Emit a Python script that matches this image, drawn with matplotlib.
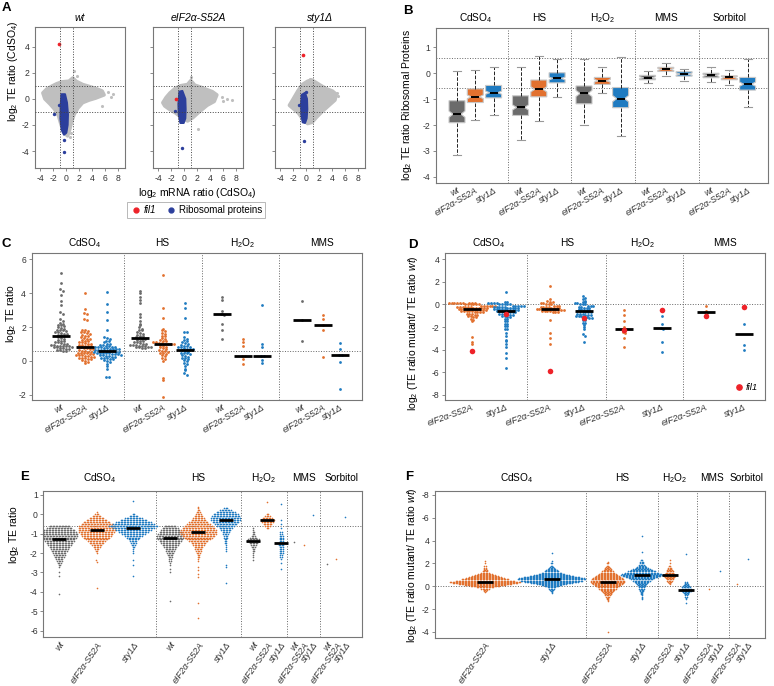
import numpy as np
import matplotlib
matplotlib.use('Agg')
import matplotlib.pyplot as plt
from matplotlib.patches import Polygon
from matplotlib.lines import Line2D

plt.rcParams['font.family'] = ['Liberation Sans', 'DejaVu Sans']
plt.rcParams['mathtext.fontset'] = 'custom'
plt.rcParams['mathtext.rm'] = 'Liberation Sans'
plt.rcParams['mathtext.it'] = 'Liberation Sans:italic'
plt.rcParams['mathtext.default'] = 'regular'
plt.rcParams['axes.unicode_minus'] = False

# ---------------- data ----------------
strains = ['wt', 'eIF2α-S52A', 'sty1Δ']
conds5 = ['CdSO$_4$', 'HS', 'H$_2$O$_2$', 'MMS', 'Sorbitol']
conds4 = conds5[:4]

# A: outline of the dense gene cloud, extra genes, ribosomal protein column, fil1
cloud_wt = [(-3.6, 0.45), (-3.0, 0.75), (-2.3, 0.95), (-1.5, 1.15), (-0.7, 1.3), (0.4, 1.35), (1.0, 1.6),
            (1.5, 1.35), (2.5, 1.1), (3.5, 0.95), (4.5, 0.8), (5.5, 0.6), (5.8, 0.3), (4.5, 0.05), (3.5, -0.1),
            (2.5, -0.3), (1.8, -0.7), (1.2, -1.2), (0.8, -1.8), (0.5, -2.4), (0.2, -2.85), (-0.3, -2.6),
            (-0.8, -2.0), (-1.2, -1.3), (-1.8, -0.8), (-2.5, -0.4), (-3.3, 0.0)]
extra_wt = [(1.2, 2.1), (1.7, 1.75), (6.4, 0.5), (7.2, 0.4), (6.8, 0.15), (5.5, -0.55), (0.5, -2.9), (0.7, -2.6)]
ribo_wt = [(-0.75, 0.35), (-0.2, 0.35), (0.1, -0.3), (0.25, -1.2), (0.2, -2.0), (0.0, -2.6), (-0.35, -2.75),
           (-0.7, -2.4), (-0.9, -1.5), (-0.85, -0.5)]
ribo_extra_wt = [(-1.95, -1.2), (-0.35, -3.15), (-0.4, -4.1), (-1.1, -0.5)]

cloud_s52a = [(-3.3, -0.3), (-2.8, 0.1), (-2.2, 0.45), (-1.4, 0.8), (-0.6, 1.0), (0.5, 1.1), (1.0, 1.4),
              (1.6, 1.05), (2.5, 0.9), (3.5, 0.7), (4.3, 0.55), (5.0, 0.3), (4.6, -0.2), (3.5, -0.5),
              (2.3, -1.0), (1.3, -1.45), (0.5, -1.7), (-0.3, -1.5), (-1.3, -1.1), (-2.3, -0.8), (-3.0, -0.55)]
extra_s52a = [(1.07, 1.65), (5.8, 0.17), (6.5, 0.0), (7.35, -0.1), (2.1, -2.35), (6.0, -0.2)]
ribo_s52a = [(-0.75, 0.55), (-0.3, 0.6), (0.15, 0.0), (0.2, -0.8), (0.15, -1.5), (-0.1, -1.85), (-0.6, -1.85),
             (-0.85, -1.2), (-0.9, -0.4)]
ribo_extra_s52a = [(-1.45, -0.95), (-0.4, -3.8)]

cloud_sty1 = [(-2.6, -0.5), (-2.0, 0.0), (-1.3, 0.6), (-0.6, 1.1), (0.2, 1.35), (0.8, 1.45), (1.5, 1.25),
              (2.3, 1.0), (3.2, 0.75), (4.0, 0.6), (4.6, 0.35), (4.4, -0.1), (3.5, -0.5), (2.6, -0.9),
              (1.6, -1.4), (0.9, -1.8), (0.2, -1.9), (-0.5, -1.6), (-1.2, -1.1), (-1.9, -0.8)]
extra_sty1 = [(4.75, 0.45), (4.9, 0.2), (0.6, 1.55)]
ribo_sty1 = [(-0.7, 0.3), (-0.2, 0.45), (0.1, 0.0), (0.15, -0.8), (0.05, -1.5), (-0.2, -1.85), (-0.55, -1.8),
             (-0.75, -1.2), (-0.8, -0.4)]
ribo_extra_sty1 = [(-1.1, -0.5), (-0.3, -3.25), (-0.1, 0.5)]

fil1_a = [(-1.15, 4.2), (-1.25, 0.0), (-0.55, 3.35)]

# B: ribosomal protein TE ratio boxes (CdSO4, HS, H2O2, MMS, Sorbitol x wt, S52A, sty1)
b_whishi = [0.085, 0.11, 0.23, 0.24, 0.68, 0.56, 0.54, 0.25, 0.61, 0.085, 0.39, 0.18, 0.25, 0.12, 0.57]
b_q3 = [-1.06, -0.6, -0.47, -0.87, -0.26, 0.02, -0.49, -0.16, -0.55, -0.08, 0.23, 0.06, 0.0, -0.1, -0.16]
b_med = [-1.58, -0.91, -0.75, -1.32, -0.62, -0.2, -0.78, -0.29, -0.98, -0.17, 0.15, -0.03, -0.08, -0.16, -0.42]
b_q1 = [-1.91, -1.13, -0.95, -1.63, -0.91, -0.37, -1.18, -0.43, -1.33, -0.25, 0.07, -0.11, -0.17, -0.25, -0.65]
b_whislo = [-3.16, -1.81, -1.6, -2.57, -1.85, -0.92, -1.98, -0.75, -2.44, -0.39, -0.11, -0.31, -0.34, -0.47, -1.29]
b_notch = [0.12, 0.07, 0.06, 0.1, 0.1, 0.05, 0.12, 0.05, 0.12, 0.04, 0.04, 0.04, 0.04, 0.04, 0.08]

# C: log2 TE ratio of induced genes
c_cd_wt = [5.2, 4.6, 4.25, 4.15, 3.9, 3.55, 3.3, 2.9, 2.8, 2.45, 2.35, 2.25, 2.2, 2.15, 2.1, 2.05, 2.0, 1.95,
           1.9, 1.85, 1.85, 1.8, 1.75, 1.7, 1.7, 1.65, 1.6, 1.6, 1.55, 1.55, 1.45, 1.4, 1.35, 1.3, 1.25, 1.2,
           1.15, 1.1, 1.1, 1.05, 1.0, 1.0, 0.95, 0.95, 0.9, 0.88, 0.88, 0.88, 0.88, 0.85, 0.8, 0.8, 0.75,
           0.75, 0.7, 0.7, 0.65, 0.65, 0.6, 0.6]
c_cd_s52a = [4.0, 3.05, 2.85, 2.8, 2.45, 2.4, 1.85, 1.8, 1.75, 1.7, 1.7, 1.65, 1.6, 1.55, 1.5, 1.45, 1.4, 1.35,
             1.3, 1.3, 1.25, 1.2, 1.15, 1.1, 1.1, 1.05, 1.0, 1.0, 0.95, 0.95, 0.9, 0.9, 0.88, 0.82, 0.8, 0.75,
             0.75, 0.7, 0.7, 0.65, 0.6, 0.6, 0.55, 0.55, 0.5, 0.5, 0.45, 0.45, 0.4, 0.4, 0.35, 0.35, 0.35, 0.3,
             0.3, 0.25, 0.25, 0.2, 0.2, 0.15, 0.1, 0.1, 0.05, 0.0, -0.05, -0.1]
c_cd_sty1 = [4.05, 3.35, 2.9, 2.4, 1.85, 1.4, 1.35, 1.3, 1.2, 1.15, 1.1, 1.0, 1.0, 0.95, 0.95, 0.9, 0.9, 0.85,
             0.85, 0.8, 0.8, 0.8, 0.75, 0.75, 0.7, 0.7, 0.7, 0.68, 0.65, 0.65, 0.62, 0.62, 0.61, 0.58, 0.58,
             0.55, 0.55, 0.52, 0.5, 0.5, 0.48, 0.45, 0.45, 0.42, 0.4, 0.4, 0.38, 0.35, 0.35, 0.3, 0.3, 0.25,
             0.25, 0.2, 0.2, 0.15, 0.1, 0.1, 0.05, 0.0, -0.05, -0.15, -0.3, -0.45, -0.95, -0.95]
c_hs_wt = [4.15, 4.0, 3.8, 3.6, 3.4, 2.75, 2.6, 2.35, 2.2, 2.1, 2.0, 1.9, 1.85, 1.8, 1.7, 1.65, 1.6, 1.55, 1.5,
           1.45, 1.4, 1.38, 1.32, 1.3, 1.25, 1.2, 1.15, 1.1, 1.1, 1.05, 1.0, 1.0, 0.95, 0.95, 0.92, 0.9, 0.9,
           0.88, 0.85, 0.85, 0.8, 0.8, 0.78, 0.75]
c_hs_s52a = [5.05, 3.15, 2.55, 1.9, 1.85, 1.75, 1.65, 1.6, 1.5, 1.45, 1.35, 1.3, 1.25, 1.2, 1.15, 1.1, 1.1, 1.05,
             1.05, 1.02, 1.02, 1.01, 0.98, 0.95, 0.9, 0.85, 0.8, 0.75, 0.7, 0.65, 0.6, 0.58, 0.55, 0.5, 0.45,
             0.4, 0.35, 0.3, 0.2, 0.1, 0.0, -1.0, -1.15, -2.1]
c_hs_sty1 = [3.4, 3.1, 2.55, 1.7, 1.7, 1.4, 1.3, 1.25, 1.2, 1.1, 1.05, 1.0, 0.95, 0.9, 0.9, 0.85, 0.8, 0.8, 0.75,
             0.72, 0.7, 0.68, 0.62, 0.6, 0.55, 0.5, 0.5, 0.45, 0.4, 0.35, 0.3, 0.25, 0.2, 0.15, 0.1, 0.05, 0.0,
             -0.1, -0.2, -0.3, -0.45, -0.55, -0.7, -0.8]
c_h2o2_wt = [3.75, 3.6, 2.95, 2.8, 2.75, 2.7, 2.2, 1.8, 1.3]
c_h2o2_s52a = [1.3, 1.1, 0.9, 0.3, 0.3, 0.1, -0.2]
c_h2o2_sty1 = [3.3, 1.0, 0.8, 0.3, 0.28, 0.05, -0.1]
c_mms_wt = [3.55, 2.4, 1.2]
c_mms_s52a = [2.7, 2.5, 2.1, 1.85, 0.25]
c_mms_sty1 = [1.05, 0.7, 0.35, 0.35, -0.05, -1.65]

# D: log2 (TE ratio mutant / TE ratio wt), same genes
d_cd_s52a = [0.15] * 3 + [0.1] * 6 + [0.0] * 6 + [-0.1] * 6 + [-0.2] * 6 + [-0.3] * 6 + [-0.4] * 6 + \
            [-0.5] * 5 + [-0.6] * 5 + [-0.7] * 4 + [-0.8] * 3 + [-0.9] * 2 + [-1.0] * 2 + [-1.1] * 2 + \
            [-1.3, -1.4, -1.45, -2.9, -3.3, -3.5]
d_cd_sty1 = [1.1] + [0.2] * 2 + [0.1] * 4 + [0.0] * 5 + [-0.1] * 5 + [-0.2] * 5 + [-0.3] * 5 + [-0.4] * 5 + \
            [-0.5] * 5 + [-0.6] * 4 + [-0.7] * 4 + [-0.8] * 3 + [-0.9] * 3 + [-1.0] * 2 + [-1.1] * 2 + \
            [-1.3] * 2 + [-1.5] * 2 + [-1.7] * 2 + [-1.9] * 2 + [-2.2] * 2 + \
            [-2.5, -2.8, -3.1, -3.2, -3.5, -3.8, -4.3, -4.7, -5.6]
d_hs_s52a = [1.65, 0.45, 0.3, 0.2, 0.2, 0.1, 0.1, 0.0, 0.0, 0.0] + [-0.1] * 3 + [-0.2] * 4 + [-0.3] * 4 + \
            [-0.4] * 6 + [-0.5] * 5 + [-0.6] * 4 + [-0.7] * 3 + [-1.4, -2.5, -3.0, -3.5]
d_hs_sty1 = [0.75, 0.6, 0.5, 0.35, 0.2, 0.2, 0.1, 0.1, 0.0, 0.0, 0.0, -0.1, -0.1, -0.1, -0.2, -0.2] + \
            [-0.3] * 3 + [-0.4] * 2 + [-0.5] * 3 + [-0.6] * 3 + [-0.7] * 3 + [-0.8] * 3 + [-0.9] * 3 + \
            [-1.0] * 3 + [-1.1] * 2 + [-1.2] * 2 + [-1.4] * 2 + [-1.6] * 2 + [-1.8, -2.0, -2.2, -2.6, -2.75, -3.35]
d_h2o2_s52a = [-0.45, -0.9, -1.5, -2.0, -2.4, -2.5, -2.95, -3.75]
d_h2o2_sty1 = [-0.5, -1.0, -1.75, -2.1, -2.2, -3.3, -4.2]
d_mms_s52a = [-0.1, -0.55, -0.7, -0.75, -1.0]
d_mms_sty1 = [-0.2, -1.7, -3.6, -4.0]
d_fil1 = [-4.15, -0.85, -5.85, -1.2, -2.3, -0.5, -1.0, -0.2]

# E: all repressed genes, genes per 0.1 bin from the top bin downwards, plus isolated genes
e_top = [-0.6, 0.1, 0.0, -0.6, 0.4, 0.3, -0.7, 0.0, -0.3, None, None, None, None, None, None]
e_counts = [
    [14, 17, 21, 23, 25, 24, 23, 21, 20, 18, 16, 14, 12, 11, 9, 8, 7, 5, 4, 3, 2, 1],
    [1, 3, 6, 10, 14, 18, 21, 24, 25, 25, 24, 22, 20, 18, 15, 12, 10, 7, 5, 3, 2, 1],
    [2, 6, 12, 18, 24, 28, 33, 28, 24, 20, 16, 12, 9, 7, 5, 4, 3, 2, 1, 1, 1],
    [8, 11, 13, 15, 17, 18, 18, 17, 15, 13, 11, 9, 7, 6, 5, 4, 3, 2, 2, 1, 1, 0, 1],
    [1, 1, 2, 3, 4, 6, 8, 10, 13, 16, 19, 22, 24, 25, 24, 22, 19, 16, 13, 10, 8, 6, 5, 4, 3, 2, 2, 1, 1],
    [3, 8, 13, 17, 19, 20, 20, 18, 15, 12, 9, 7, 5, 4, 3, 3, 2, 2, 2, 1, 1, 1, 1],
    [1, 1, 2, 2, 3, 5, 8, 9, 6, 4, 3, 2, 2, 1, 1, 1],
    [2, 4, 7, 10, 8, 6, 4, 2],
    [1, 0, 1, 0, 1, 0, 2, 2, 3, 3, 3, 3, 4, 4, 3, 3, 3, 3, 2, 2, 1],
    [], [], [], [], [], []]
e_extra = [[-3.0, -3.2, -4.1], [-2.35, -2.45, -3.8], [0.7, -2.35, -2.6, -3.2], [-3.0, -4.5],
           [-2.7, -2.9, -3.1, -3.25, -4.6, -5.35], [-2.6, -2.7, -3.55], [-2.35], [0.65], [0.55, -2.5, -2.8],
           [-1.41], [-1.58], [-0.03], [-2.57], [-2.33], [-0.14]]

# F: mutant / wt ratio for the same genes (mutants only)
f_top = [2.2, 2.2, 2.1, 2.3, 2.0, 0.4, None, None, None, None]
f_counts = [
    [1, 0, 1, 0, 2, 0, 2, 2, 3, 4, 6, 10, 14, 18, 22, 26, 32, 40, 48, 44, 36, 28, 20, 12, 6, 3, 2, 1],
    [1, 0, 2, 0, 2, 3, 4, 6, 8, 10, 14, 18, 24, 30, 38, 44, 46, 42, 36, 28, 20, 14, 10, 6, 4, 3, 2, 1, 1],
    [1, 2, 0, 2, 3, 4, 5, 6, 8, 10, 12, 14, 16, 18, 20, 22, 23, 23, 22, 20, 18, 16, 14, 12, 10, 8, 7, 6, 5,
     4, 3, 2, 2, 1, 1],
    [2, 0, 3, 3, 4, 5, 7, 9, 12, 15, 19, 23, 27, 28, 26, 22, 18, 15, 12, 10, 8, 7, 6, 5, 4, 4, 3, 3, 2, 2,
     2, 1, 1, 1, 1],
    [1, 0, 2, 0, 3, 3, 4, 5, 6, 7, 8, 8, 7, 6, 5, 4, 3, 2, 1],
    [2, 2, 3, 4, 5, 6, 7, 8, 7, 5, 4, 3, 2, 2, 1, 1],
    [], [], [], []]
f_extra = [[], [2.9], [-4.0], [4.45, 3.05], [2.3], [2.85, -1.5], [-0.2], [1.33], [0.22], [2.39]]

# ---------------- style ----------------
GRAY = '#6b6b6b'
ORANGE = '#e2712f'
BLUE = '#1f7bc1'
CLOUD = '#bfbfbf'
RIBO = '#2c3f9c'
RED = '#ee2229'
FRAME = '#777777'
cols3 = [GRAY, ORANGE, BLUE]

W, H = 774, 686
fig = plt.figure(figsize=(W / 100, H / 100), dpi=100)


def px_axes(l, t, r, b):
    return fig.add_axes([l / W, 1 - b / H, (r - l) / W, (b - t) / H])


def style(ax, xticks=True):
    for sp in ax.spines.values():
        sp.set_color(FRAME)
        sp.set_linewidth(0.8)
    ax.tick_params(length=2.5, width=0.6, color=FRAME, labelsize=6.2, pad=1.5, labelcolor='#333333')
    if not xticks:
        ax.tick_params(axis='x', length=0, pad=2)


def swarm(ax, vals, x0, dx, dy, color, s):
    vals = np.sort(np.asarray(vals, float))[::-1]
    if len(vals) == 0:
        return vals
    rows = np.round(vals / dy).astype(int)
    xs = np.empty(len(vals))
    for r in np.unique(rows):
        idx = np.where(rows == r)[0]
        k = len(idx)
        xs[idx] = x0 + (np.arange(k) - (k - 1) / 2) * dx
    ax.scatter(xs, vals, s=s, color=color, lw=0, zorder=3)
    return vals


def median_bar(ax, vals, x0, half):
    if len(vals) > 1:
        ax.hlines(np.median(vals), x0 - half, x0 + half, color='black', lw=2, zorder=4)


def group_labels(ax, labels, centers, ypx_above):
    for lab, c in zip(labels, centers):
        ax.annotate(lab, (c, 1), xycoords=('data', 'axes fraction'), xytext=(0, ypx_above * 0.72),
                    textcoords='offset points', ha='center', va='center', fontsize=7.3)


def separators(ax, xs):
    for x in xs:
        ax.axvline(x, color='#666666', ls=':', lw=0.7, zorder=1)


def strain_ticks(ax, pos, labels, rot):
    ax.set_xticks(pos)
    ax.set_xticklabels(labels, rotation=rot, ha='right', rotation_mode='anchor', fontstyle='italic',
                       fontsize=6.5)


def ylabel(x, y, text):
    fig.text(x / W, 1 - y / H, text, rotation=90, ha='center', va='center', fontsize=7.5)


def panel(x, y, letter):
    fig.text(x / W, 1 - y / H, letter, fontsize=9.5, fontweight='bold', ha='left', va='center')


# ---------------- A ----------------
a_frames = [(35, 125), (153, 243), (275, 365)]
a_clouds = [cloud_wt, cloud_s52a, cloud_sty1]
a_extras = [extra_wt, extra_s52a, extra_sty1]
a_ribos = [ribo_wt, ribo_s52a, ribo_sty1]
a_ribo_extras = [ribo_extra_wt, ribo_extra_s52a, ribo_extra_sty1]
for i in range(3):
    ax = px_axes(a_frames[i][0], 27, a_frames[i][1], 168)
    style(ax)
    ax.set_xlim(-4.8, 9)
    ax.set_ylim(-5.3, 5.5)
    ax.set_xticks([-4, -2, 0, 2, 4, 6, 8])
    ax.set_yticks([-4, -2, 0, 2, 4])
    if i > 0:
        ax.set_yticklabels([])
    for v in (-1, 1):
        ax.axvline(v, color='#444444', ls=':', lw=0.7, zorder=5)
        ax.axhline(v, color='#444444', ls=':', lw=0.7, zorder=5)
    ax.add_patch(Polygon(a_clouds[i], closed=True, fc=CLOUD, ec=CLOUD, lw=2.5, joinstyle='round', zorder=2))
    ex = np.array(a_extras[i])
    ax.scatter(ex[:, 0], ex[:, 1], s=5, color=CLOUD, lw=0, zorder=2)
    ax.add_patch(Polygon(a_ribos[i], closed=True, fc=RIBO, ec=RIBO, lw=1.5, joinstyle='round', zorder=3))
    rx = np.array(a_ribo_extras[i])
    ax.scatter(rx[:, 0], rx[:, 1], s=6, color=RIBO, lw=0, zorder=3)
    ax.scatter([fil1_a[i][0]], [fil1_a[i][1]], s=7, color=RED, lw=0, zorder=4)
    ax.set_title(strains[i], fontstyle='italic', fontsize=7.5, pad=4)

fig.text(197 / W, 1 - 193 / H, 'log$_2$ mRNA ratio (CdSO$_4$)', ha='center', va='center', fontsize=7.5)
ylabel(13, 71, 'log$_2$ TE ratio (CdSO$_4$)')
handles = [Line2D([], [], marker='o', ls='', color=RED, markersize=3.5),
           Line2D([], [], marker='o', ls='', color=RIBO, markersize=3.5)]
leg = fig.legend(handles, ['fil1', 'Ribosomal proteins'], loc='center', bbox_to_anchor=(196 / W, 1 - 210 / H),
                 ncol=2, fontsize=7, frameon=True, fancybox=False, edgecolor='#999999', handletextpad=0.15,
                 columnspacing=1.0, borderpad=0.35, handlelength=1.2)
leg.get_frame().set_linewidth(0.6)
leg.get_texts()[0].set_fontstyle('italic')
panel(2, 8, 'A')

# ---------------- B ----------------
ax = px_axes(436, 28, 768, 183)
style(ax, xticks=False)
b_pos = [457 + 63.5 * g + 18.3 * j for g in range(5) for j in range(3)]
stats = []
for k in range(15):
    stats.append(dict(med=b_med[k], q1=b_q1[k], q3=b_q3[k], whislo=b_whislo[k], whishi=b_whishi[k],
                      cilo=b_med[k] - b_notch[k], cihi=b_med[k] + b_notch[k], fliers=[]))
bp = ax.bxp(stats, positions=b_pos, widths=16, shownotches=True, patch_artist=True, manage_ticks=False,
            boxprops=dict(edgecolor='#c8c8c8', linewidth=0.8),
            whiskerprops=dict(color='#222222', linestyle='--', linewidth=0.7),
            capprops=dict(color='#999999', linewidth=0.8),
            medianprops=dict(color='black', linewidth=1.4))
for k, patch in enumerate(bp['boxes']):
    patch.set_facecolor(cols3[k % 3])
ax.set_xlim(436, 768)
ax.set_ylim(-4.24, 1.75)
ax.set_yticks([-4, -3, -2, -1, 0, 1])
separators(ax, [508, 571, 635, 699])
for v in (0.585, -0.585):
    ax.axhline(v, color='#666666', ls=':', lw=0.7, zorder=1)
strain_ticks(ax, b_pos, strains * 5, 30)
group_labels(ax, conds5, [np.mean(b_pos[3 * g:3 * g + 3]) for g in range(5)], 10)
ylabel(407, 105, 'log$_2$ TE ratio Ribosomal Proteins')
panel(403, 11, 'B')

# ---------------- C ----------------
ax = px_axes(31.7, 253.3, 361.7, 400)
style(ax, xticks=False)
c_pos = [61, 85, 107, 140, 163, 185, 222, 243, 262, 302, 323, 340]
c_sets = [c_cd_wt, c_cd_s52a, c_cd_sty1, c_hs_wt, c_hs_s52a, c_hs_sty1,
          c_h2o2_wt, c_h2o2_s52a, c_h2o2_sty1, c_mms_wt, c_mms_s52a, c_mms_sty1]
for k, vals in enumerate(c_sets):
    swarm(ax, vals, c_pos[k], 3.0, 0.15, cols3[k % 3], 4)
    median_bar(ax, vals, c_pos[k], 9)
ax.set_xlim(31.7, 361.7)
ax.set_ylim(-2.3, 6.35)
ax.set_yticks([-2, 0, 2, 4, 6])
ax.axhline(0.585, color='#666666', ls=':', lw=0.7, zorder=1)
separators(ax, [124.3, 201.7, 278.7])
strain_ticks(ax, c_pos, strains * 4, 30)
group_labels(ax, conds4, [np.mean(c_pos[3 * g:3 * g + 3]) for g in range(4)], 10)
ylabel(11, 314, 'log$_2$ TE ratio')
panel(2, 244, 'C')

# ---------------- D ----------------
ax = px_axes(445, 253.3, 765, 400)
style(ax, xticks=False)
d_pos = [472, 506, 550, 584, 624, 662, 706, 744]
d_sets = [d_cd_s52a, d_cd_sty1, d_hs_s52a, d_hs_sty1, d_h2o2_s52a, d_h2o2_sty1, d_mms_s52a, d_mms_sty1]
for k, vals in enumerate(d_sets):
    swarm(ax, vals, d_pos[k], 2.7, 0.22, cols3[1 + k % 2], 4)
    median_bar(ax, vals, d_pos[k], 9)
ax.scatter(d_pos, d_fil1, s=16, color=RED, lw=0, zorder=5)
ax.set_xlim(445, 765)
ax.set_ylim(-8.45, 4.53)
ax.set_yticks([-8, -6, -4, -2, 0, 2, 4])
ax.axhline(0, color='#666666', ls=':', lw=0.7, zorder=1)
separators(ax, [527.3, 605.7, 683.3])
strain_ticks(ax, d_pos, strains[1:] * 4, 20)
group_labels(ax, conds4, [np.mean(d_pos[2 * g:2 * g + 2]) for g in range(4)], 10)
lg = ax.legend([Line2D([], [], marker='o', ls='', color=RED, markersize=3.8)], ['fil1'], loc='lower right',
               frameon=False, fontsize=6.8, handletextpad=0.1, borderaxespad=0.4, handlelength=1.2)
lg.get_texts()[0].set_fontstyle('italic')
ylabel(413, 333, 'log$_2$ (TE ratio mutant/ TE ratio $\\mathit{wt}$)')
panel(408, 245, 'D')

# ---------------- E ----------------
ax = px_axes(43.3, 491, 361.7, 637.3)
style(ax, xticks=False)
e_pos = [59.3, 96.7, 133.3, 170, 198.3, 225.7, 253.3, 267.3, 281, 294.3, 303.7, 313, 327.3, 336.3, 345.3]
for k in range(15):
    vals = list(e_extra[k])
    if e_top[k] is not None:
        lev = np.round(e_top[k] - 0.1 * np.arange(len(e_counts[k])), 2)
        vals += list(np.repeat(lev, e_counts[k]))
    swarm(ax, vals, e_pos[k], 1.5, 0.1, cols3[k % 3], 1.4)
    median_bar(ax, vals, e_pos[k], 7)
ax.set_xlim(43.3, 361.7)
ax.set_ylim(-6.35, 1.2)
ax.set_yticks([-6, -5, -4, -3, -2, -1, 0, 1])
ax.axhline(-0.585, color='#666666', ls=':', lw=0.7, zorder=1)
separators(ax, [156, 241, 287.3, 320.3])
strain_ticks(ax, e_pos, strains * 5, 55)
group_labels(ax, conds5, [100, 198.3, 263.3, 304, 341.7], 13)
ylabel(14, 535, 'log$_2$ TE ratio')
panel(20, 477, 'E')

# ---------------- F ----------------
ax = px_axes(435, 491, 765, 637.7)
style(ax, xticks=False)
f_pos = [485, 551.7, 607.7, 641.7, 669.7, 686, 708.7, 719.7, 736.7, 747.7]
for k in range(10):
    vals = list(f_extra[k])
    if f_top[k] is not None:
        lev = np.round(f_top[k] - 0.1 * np.arange(len(f_counts[k])), 2)
        vals += list(np.repeat(lev, f_counts[k]))
    swarm(ax, vals, f_pos[k], 1.5, 0.1, cols3[1 + k % 2], 1.4)
    median_bar(ax, vals, f_pos[k], 8)
ax.set_xlim(435, 765)
ax.set_ylim(-4.5, 8.35)
ax.set_yticks([-4, -2, 0, 2, 4, 6, 8])
ax.set_yticklabels(['-4', '-2', '0', '2', '4', '-6', '-8'])
ax.axhline(0, color='#666666', ls=':', lw=0.7, zorder=1)
separators(ax, [585.7, 658.3, 697.3, 728.7])
strain_ticks(ax, f_pos, strains[1:] * 5, 55)
group_labels(ax, conds5, [516.7, 622.3, 674.3, 711.7, 746.7], 13)
ylabel(412, 565, 'log$_2$ (TE ratio mutant/ TE ratio $\\mathit{wt}$)')
panel(405, 477, 'F')

fig.savefig('out.png', dpi=100)
